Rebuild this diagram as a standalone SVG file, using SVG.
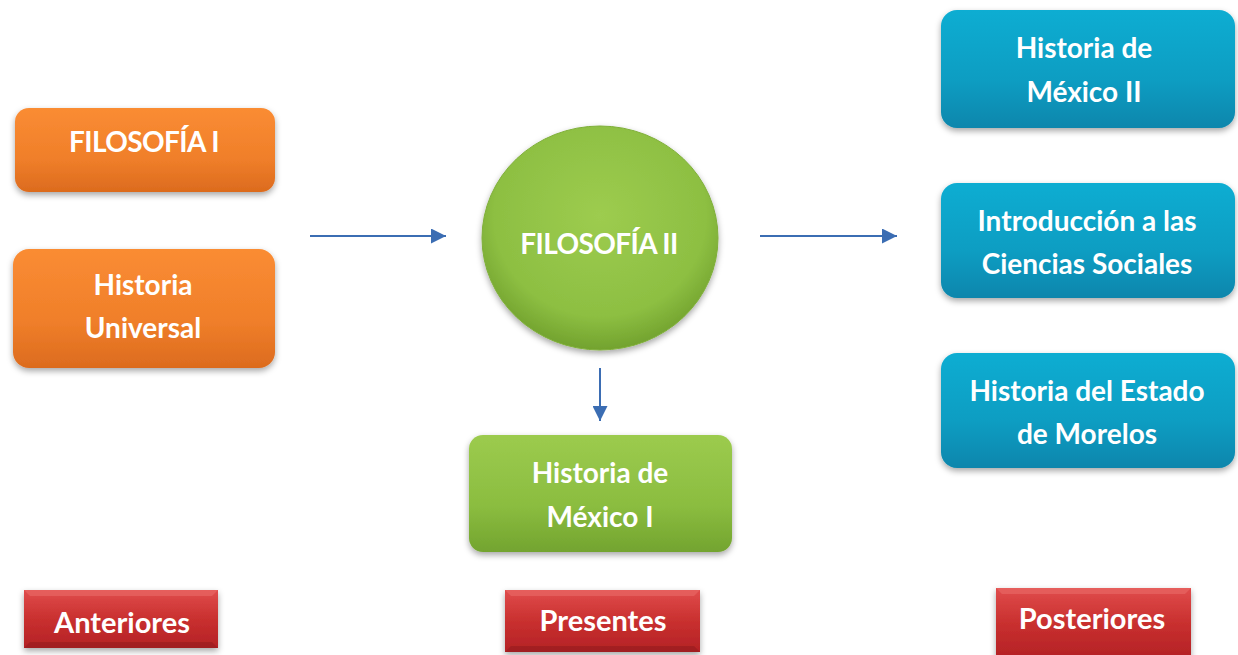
<svg xmlns="http://www.w3.org/2000/svg" width="1238" height="655" viewBox="0 0 1238 655">
<defs>
<linearGradient id="gO" x1="0" y1="0" x2="0" y2="1"><stop offset="0" stop-color="#FA8C33"/><stop offset="0.6" stop-color="#F07F2A"/><stop offset="1" stop-color="#DC6B1E"/></linearGradient>
<linearGradient id="gG" x1="0" y1="0" x2="0" y2="1"><stop offset="0" stop-color="#9CCB4E"/><stop offset="0.6" stop-color="#8BBD40"/><stop offset="1" stop-color="#73A42F"/></linearGradient>
<radialGradient id="gC" cx="0.5" cy="0.4" r="0.6"><stop offset="0" stop-color="#9DCC4F"/><stop offset="0.75" stop-color="#8DBF42"/><stop offset="1" stop-color="#72A22E"/></radialGradient>
<linearGradient id="gB" x1="0" y1="0" x2="0" y2="1"><stop offset="0" stop-color="#0CADD2"/><stop offset="0.6" stop-color="#0A9DC2"/><stop offset="1" stop-color="#0886AC"/></linearGradient>
<linearGradient id="gR" x1="0" y1="0" x2="0" y2="1"><stop offset="0" stop-color="#E04C4C"/><stop offset="0.5" stop-color="#C9302F"/><stop offset="1" stop-color="#B42226"/></linearGradient>
<filter id="sh" x="-10%" y="-10%" width="120%" height="130%"><feDropShadow dx="0" dy="3" stdDeviation="3" flood-color="#000" flood-opacity="0.35"/></filter>
<marker id="ah" markerWidth="15" markerHeight="15" refX="15" refY="7.5" orient="auto" markerUnits="userSpaceOnUse" viewBox="0 0 15 15"><path d="M0,0 L15,7.5 L0,15 Z" fill="#3B6DB3"/></marker>
<style>
.t{font-family:"Lato","Liberation Sans",sans-serif;font-weight:bold;fill:#fff;text-anchor:middle;font-size:28px}
.cap{letter-spacing:-0.6px}
.tr{font-family:"Lato","Liberation Sans",sans-serif;font-weight:bold;fill:#fff;text-anchor:middle;font-size:29px}
.c{stroke:#3B6DB3;stroke-width:2;fill:none}
</style>
</defs>
<g id="n-filosofia1"><rect x="15" y="108" width="260" height="84" rx="14" fill="url(#gO)" filter="url(#sh)"/><text class="t cap" x="144" y="152">FILOSOFÍA I</text></g>
<g id="n-historia-universal"><rect x="13" y="249" width="262" height="119" rx="16" fill="url(#gO)" filter="url(#sh)"/><text class="t" x="143" y="295">Historia</text><text class="t" x="143" y="338">Universal</text></g>
<g id="n-filosofia2"><ellipse cx="600" cy="238" rx="118" ry="112" fill="url(#gC)" stroke="#7FAF3A" stroke-width="1" filter="url(#sh)"/><text class="t cap" x="599" y="254">FILOSOFÍA II</text></g>
<g id="n-mexico1"><rect x="469" y="435" width="263" height="117" rx="14" fill="url(#gG)" filter="url(#sh)"/><text class="t" x="600" y="483">Historia de</text><text class="t" x="600" y="527">México I</text></g>
<g id="n-mexico2"><rect x="941" y="10" width="294" height="118" rx="16" fill="url(#gB)" filter="url(#sh)"/><text class="t" x="1084" y="58">Historia de</text><text class="t" x="1084" y="102">México II</text></g>
<g id="n-ciencias"><rect x="941" y="183" width="294" height="115" rx="16" fill="url(#gB)" filter="url(#sh)"/><text class="t" x="1087" y="231">Introducción a las</text><text class="t" x="1087" y="274">Ciencias Sociales</text></g>
<g id="n-morelos"><rect x="941" y="353" width="294" height="115" rx="16" fill="url(#gB)" filter="url(#sh)"/><text class="t" x="1087" y="401">Historia del Estado</text><text class="t" x="1087" y="444">de Morelos</text></g>
<g id="n-anteriores"><rect x="24" y="590" width="194" height="58" fill="url(#gR)" filter="url(#sh)"/><path d="M24,590 L218,590 L212,596 L30,596 Z" fill="#EA6A68" opacity="0.6"/><path d="M24,648 L218,648 L212,642 L30,642 Z" fill="#8E1A1C" opacity="0.5"/><text class="tr" x="122" y="633">Anteriores</text></g>
<g id="n-presentes"><rect x="505" y="590" width="195" height="62" fill="url(#gR)" filter="url(#sh)"/><path d="M505,590 L700,590 L694,596 L511,596 Z" fill="#EA6A68" opacity="0.6"/><path d="M505,652 L700,652 L694,646 L511,646 Z" fill="#8E1A1C" opacity="0.5"/><text class="tr" x="603" y="631">Presentes</text></g>
<g id="n-posteriores"><rect x="996" y="588" width="195" height="70" fill="url(#gR)" filter="url(#sh)"/><path d="M996,588 L1191,588 L1185,594 L1002,594 Z" fill="#EA6A68" opacity="0.6"/><text class="tr" x="1092" y="629">Posteriores</text></g>
<g id="connectors">
<line class="c" x1="310" y1="236" x2="446" y2="236" marker-end="url(#ah)"/>
<line class="c" x1="760" y1="236" x2="897" y2="236" marker-end="url(#ah)"/>
<line class="c" x1="600" y1="368" x2="600" y2="421" marker-end="url(#ah)"/>
</g>
</svg>
